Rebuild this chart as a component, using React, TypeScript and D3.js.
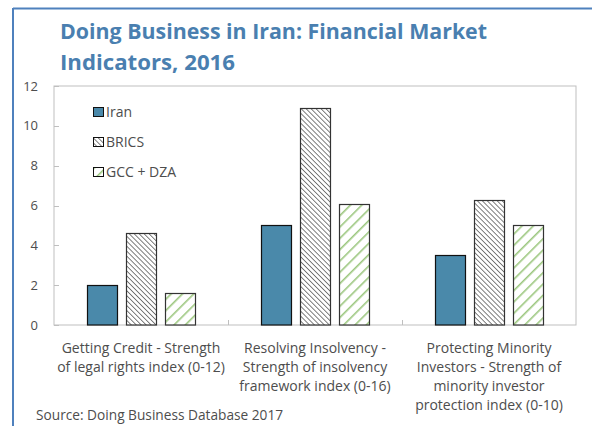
import * as d3 from "d3";

const categories = [
  ["Getting Credit - Strength", "of legal rights index (0-12)"],
  ["Resolving Insolvency -", "Strength of insolvency", "framework index (0-16)"],
  ["Protecting Minority", "Investors - Strength of", "minority investor", "protection index (0-10)"],
];
const seriesNames = ["Iran", "BRICS", "GCC + DZA"];
const iran = [2.0, 5.0, 3.5];
const brics = [4.6, 10.9, 6.3];
const gcc = [1.6, 6.1, 5.0];
const yTicks = [0, 2, 4, 6, 8, 10, 12];

const W = 592;
const H = 426;
const plot = { left: 54, right: 576, top: 86, bottom: 325 };
const font = "'Open Sans', 'Noto Sans', sans-serif";
const fills = ["#4a89aa", "url(#hatchBrics)", "url(#hatchGcc)"];
const textColor = "#4d4d4d";

export default function App() {
  const series = [iran, brics, gcc];
  const x = d3
    .scaleBand<number>()
    .domain(categories.map((_, i) => i))
    .range([plot.left, plot.right]);
  const y = d3.scaleLinear().domain([0, 12]).range([plot.bottom, plot.top]);
  const barW = 30;
  const gap = 9;
  const inner = d3
    .scaleBand<number>()
    .domain([0, 1, 2])
    .range([0, 3 * barW + 2 * gap])
    .paddingInner(gap / (barW + gap));

  return (
    <svg
      width={W}
      height={H}
      style={{ position: "absolute", left: 0, top: 0, background: "#fff" }}
      fontFamily={font}
    >
      <defs>
        <pattern id="hatchBrics" patternUnits="userSpaceOnUse" width={3.5} height={3.5} patternTransform="rotate(45)">
          <rect width={3.5} height={3.5} fill="#fff" />
          <line x1={0} y1={0} x2={3.5} y2={0} stroke="#555" strokeWidth={1.5} />
        </pattern>
        <pattern id="hatchGcc" patternUnits="userSpaceOnUse" width={8} height={8} patternTransform="rotate(-45)">
          <rect width={8} height={8} fill="#fff" />
          <line x1={0} y1={0} x2={8} y2={0} stroke="#9cc77f" strokeWidth={3.2} />
        </pattern>
      </defs>

      {/* outer frame */}
      <line x1={13} y1={8.5} x2={W} y2={8.5} stroke="#4f81bd" strokeWidth={2} />
      <line x1={13} y1={8} x2={13} y2={H} stroke="#4f81bd" strokeWidth={2} />

      <text x={60} y={39} fontSize={22} fontWeight="bold" fill="#4a7fb0" textLength={427} lengthAdjust="spacingAndGlyphs">
        Doing Business in Iran: Financial Market
      </text>
      <text x={60} y={70} fontSize={22} fontWeight="bold" fill="#4a7fb0" textLength={175} lengthAdjust="spacingAndGlyphs">
        Indicators, 2016
      </text>

      {/* plot frame */}
      <rect
        x={plot.left}
        y={plot.top}
        width={plot.right - plot.left}
        height={plot.bottom - plot.top}
        fill="none"
        stroke="#bfbfbf"
        strokeWidth={1}
      />

      {yTicks.map((t) => (
        <g key={t}>
          <line x1={plot.left} x2={plot.left + 5} y1={Math.round(y(t)) + 0.5} y2={Math.round(y(t)) + 0.5} stroke="#bfbfbf" />
          <text x={38} y={y(t)} dy="0.35em" textAnchor="end" fontSize={13} fill={textColor}>
            {t}
          </text>
        </g>
      ))}

      {categories.slice(1).map((_, i) => (
        <line
          key={i}
          x1={Math.round(x(i + 1)!) + 0.5}
          x2={Math.round(x(i + 1)!) + 0.5}
          y1={plot.bottom}
          y2={plot.bottom - 5}
          stroke="#bfbfbf"
        />
      ))}

      {series.map((vals, s) =>
        vals.map((v, i) => {
          const cx = x(i)! + x.bandwidth() / 2;
          const x0 = cx - (3 * barW + 2 * gap) / 2 + inner(s)!;
          return (
            <rect
              key={`${s}-${i}`}
              x={Math.round(x0) + 0.5}
              y={Math.round(y(v)) + 0.5}
              width={barW}
              height={Math.round(plot.bottom - y(v)) - 0.5}
              fill={fills[s]}
              stroke={s === 0 ? "#111" : "#333"}
              strokeWidth={1.2}
            />
          );
        })
      )}

      {categories.map((lines, i) => (
        <text key={i} textAnchor="middle" fontSize={14} fill={textColor}>
          {lines.map((l, j) => (
            <tspan key={j} x={x(i)! + x.bandwidth() / 2} y={352.5 + j * 19}>
              {l}
            </tspan>
          ))}
        </text>
      ))}

      {seriesNames.map((name, s) => (
        <g key={name} transform={`translate(93.5, ${107.5 + s * 30})`}>
          <rect width={10} height={9} fill={fills[s]} stroke="#111" strokeWidth={1} />
          <text x={12.5} y={4.5} dy="0.36em" fontSize={14} fill={textColor}>
            {name}
          </text>
        </g>
      ))}

      <text x={36} y={420} fontSize={13.7} fill={textColor}>
        Source: Doing Business Database 2017
      </text>
    </svg>
  );
}
